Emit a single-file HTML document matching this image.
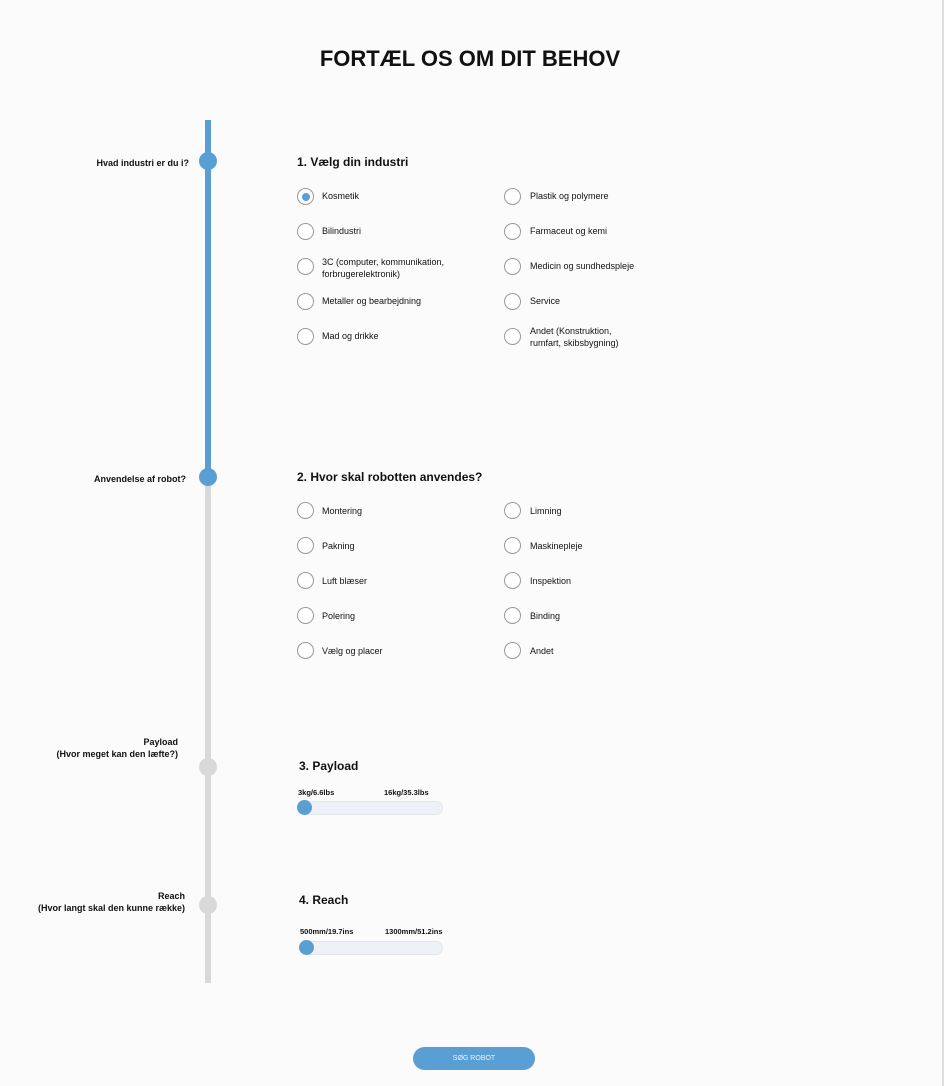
<!DOCTYPE html>
<html><head><meta charset="utf-8"><style>
body{margin:0;width:944px;height:1086px;background:#fbfbfb;font-family:"Liberation Sans",sans-serif;color:#111;position:relative;overflow:hidden}
.a{position:absolute}
.edge{right:0;top:0;width:2px;height:1086px;background:#ddd}
h1{position:absolute;left:0;width:940px;top:46px;margin:0;text-align:center;font-size:22px;font-weight:bold}
.dot{position:absolute;width:18px;height:18px;border-radius:50%}
.lbl{position:absolute;font-size:9px;font-weight:bold;text-align:right;line-height:12px}
.h{position:absolute;font-size:12px;font-weight:bold}
.r{position:absolute;width:15px;height:15px;border:1px solid #999;border-radius:50%;background:#fff}
.r.on::after{content:"";position:absolute;left:3.5px;top:3.5px;width:8px;height:8px;border-radius:50%;background:#5a9fd4}
.t{position:absolute;font-size:9px;line-height:12px}
.track{position:absolute;height:12px;border-radius:7px;background:#eef2f8;border:1px solid #e2e6ec}
.small{position:absolute;font-size:7.5px;font-weight:bold}
</style></head><body>
<div class="a edge"></div>
<h1>FORTÆL OS OM DIT BEHOV</h1>
<div class="a" style="left:205px;top:120px;width:6px;height:357px;background:#5a9fd4"></div>
<div class="a" style="left:205px;top:477px;width:6px;height:506px;background:#d9d9d9"></div>
<div class="dot" style="left:199px;top:152px;background:#5a9fd4"></div>
<div class="dot" style="left:199px;top:468px;background:#5a9fd4"></div>
<div class="dot" style="left:199px;top:758px;background:#d9d9d9"></div>
<div class="dot" style="left:199px;top:896px;background:#d9d9d9"></div>
<div class="lbl" style="right:755px;top:157px">Hvad industri er du i?</div>
<div class="lbl" style="right:758px;top:473px">Anvendelse af robot?</div>
<div class="lbl" style="right:766px;top:736px">Payload<br>(Hvor meget kan den læfte?)</div>
<div class="lbl" style="right:759px;top:890px">Reach<br>(Hvor langt skal den kunne række)</div>

<div class="h" style="left:297px;top:155px">1. Vælg din industri</div>
<div class="r on" style="left:297px;top:188px"></div><div class="t" style="left:322px;top:190px">Kosmetik</div>
<div class="r" style="left:297px;top:223px"></div><div class="t" style="left:322px;top:225px">Bilindustri</div>
<div class="r" style="left:297px;top:258px"></div><div class="t" style="left:322px;top:256px">3C (computer, kommunikation,<br>forbrugerelektronik)</div>
<div class="r" style="left:297px;top:293px"></div><div class="t" style="left:322px;top:295px">Metaller og bearbejdning</div>
<div class="r" style="left:297px;top:328px"></div><div class="t" style="left:322px;top:330px">Mad og drikke</div>
<div class="r" style="left:504px;top:188px"></div><div class="t" style="left:530px;top:190px">Plastik og polymere</div>
<div class="r" style="left:504px;top:223px"></div><div class="t" style="left:530px;top:225px">Farmaceut og kemi</div>
<div class="r" style="left:504px;top:258px"></div><div class="t" style="left:530px;top:260px">Medicin og sundhedspleje</div>
<div class="r" style="left:504px;top:293px"></div><div class="t" style="left:530px;top:295px">Service</div>
<div class="r" style="left:504px;top:328px"></div><div class="t" style="left:530px;top:325px">Andet (Konstruktion,<br>rumfart, skibsbygning)</div>

<div class="h" style="left:297px;top:470px">2. Hvor skal robotten anvendes?</div>
<div class="r" style="left:297px;top:502px"></div><div class="t" style="left:322px;top:505px">Montering</div>
<div class="r" style="left:297px;top:537px"></div><div class="t" style="left:322px;top:540px">Pakning</div>
<div class="r" style="left:297px;top:572px"></div><div class="t" style="left:322px;top:575px">Luft blæser</div>
<div class="r" style="left:297px;top:607px"></div><div class="t" style="left:322px;top:610px">Polering</div>
<div class="r" style="left:297px;top:642px"></div><div class="t" style="left:322px;top:645px">Vælg og placer</div>
<div class="r" style="left:504px;top:502px"></div><div class="t" style="left:530px;top:505px">Limning</div>
<div class="r" style="left:504px;top:537px"></div><div class="t" style="left:530px;top:540px">Maskinepleje</div>
<div class="r" style="left:504px;top:572px"></div><div class="t" style="left:530px;top:575px">Inspektion</div>
<div class="r" style="left:504px;top:607px"></div><div class="t" style="left:530px;top:610px">Binding</div>
<div class="r" style="left:504px;top:642px"></div><div class="t" style="left:530px;top:645px">Andet</div>

<div class="h" style="left:299px;top:759px">3. Payload</div>
<div class="small" style="left:298px;top:788px">3kg/6.6lbs</div>
<div class="small" style="left:384px;top:788px">16kg/35.3lbs</div>
<div class="track" style="left:298px;top:801px;width:143px"></div>
<div class="dot" style="left:297px;top:800px;width:15px;height:15px;background:#5a9fd4"></div>

<div class="h" style="left:299px;top:893px">4. Reach</div>
<div class="small" style="left:300px;top:927px">500mm/19.7ins</div>
<div class="small" style="left:385px;top:927px">1300mm/51.2ins</div>
<div class="track" style="left:300px;top:941px;width:141px"></div>
<div class="dot" style="left:299px;top:940px;width:15px;height:15px;background:#5a9fd4"></div>

<div class="a" style="left:413px;top:1047px;width:122px;height:23px;border-radius:12px;background:#5a9fd4;color:#eaf3fb;font-size:7px;text-align:center;line-height:23px">SØG ROBOT</div>
</body></html>
